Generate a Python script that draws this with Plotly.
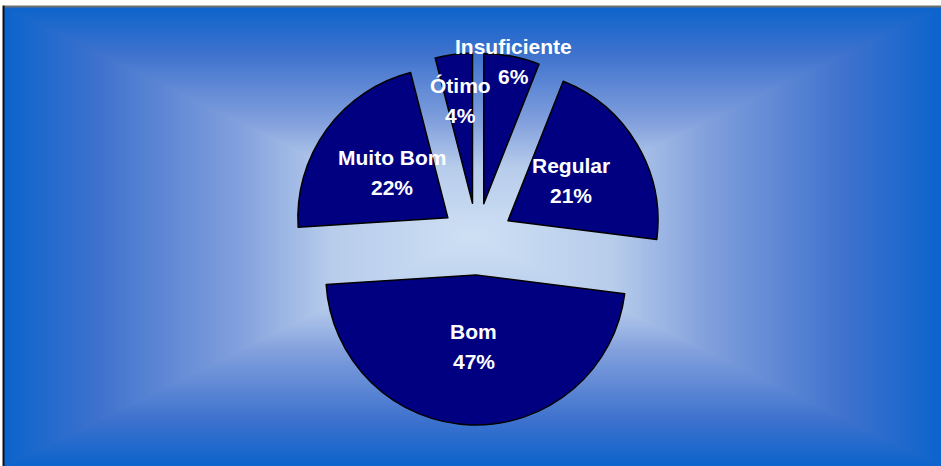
import base64
import math
import struct
import zlib

import numpy as np
import plotly.graph_objects as go

# ---------------- data ----------------
categories = ["Insuficiente", "Regular", "Bom", "Muito Bom", "Ótimo"]
values = [6, 21, 47, 22, 4]

# ---------------- styling / geometry ----------------
W, H = 941, 466
CX, CY = 477, 239          # pie centre (px)
R_PX = 150                 # pie radius (px)
PULL = 0.24
label_radius = [0.97, 0.50, 0.48, 0.48, 0.69]   # label distance from slice apex, fraction of r
label_angle_shift = [0.8, -1.8, 0.0, 2.8, 0.5]  # degrees
FONT = dict(family="Liberation Sans, Arial, sans-serif", size=21, color="white", weight="bold")
SLICE_COLOR = "#000080"

# ---------------- background gradient image ----------------
FX0, FY0 = 4, 7
fw, fh = W - FX0, H - FY0
yy, xx = np.mgrid[0:fh, 0:fw].astype(float)
gcx, gcy = fw / 2.0, fh / 2.0
t = np.maximum(np.abs(xx + 0.5 - gcx) / gcx, np.abs(yy + 0.5 - gcy) / gcy)
stops_t = [0.0, 0.3, 0.5, 0.8, 1.0]
stops_c = np.array([[206, 224, 244], [184, 205, 236], [130, 160, 221], [62, 114, 206], [12, 100, 204]], float)
img = np.zeros((fh, fw, 3), dtype=np.uint8)
for ch in range(3):
    img[..., ch] = np.clip(np.interp(t, stops_t, stops_c[:, ch]), 0, 255).astype(np.uint8)


def png_data_uri(arr):
    h, w, _ = arr.shape
    raw = b"".join(b"\x00" + arr[i].tobytes() for i in range(h))

    def chunk(tag, data):
        c = struct.pack(">I", len(data)) + tag + data
        return c + struct.pack(">I", zlib.crc32(tag + data) & 0xFFFFFFFF)

    png = (b"\x89PNG\r\n\x1a\n"
           + chunk(b"IHDR", struct.pack(">IIBBBBB", w, h, 8, 2, 0, 0, 0))
           + chunk(b"IDAT", zlib.compress(raw, 9))
           + chunk(b"IEND", b""))
    return "data:image/png;base64," + base64.b64encode(png).decode()


# ---------------- pie ----------------
box = 2 * R_PX * (1 + PULL)
ycen = 1 - CY / H
xcen = CX / W
dom_y = [ycen - box / 2 / H, ycen + box / 2 / H]
dom_x = [xcen - 0.31, xcen + 0.31]

fig = go.Figure()
fig.add_trace(go.Pie(
    labels=categories,
    values=values,
    sort=False,
    direction="clockwise",
    rotation=0,
    pull=[PULL] * len(values),
    marker=dict(colors=[SLICE_COLOR] * len(values), line=dict(color="black", width=1.5)),
    textinfo="none",
    hoverinfo="skip",
    showlegend=False,
    domain=dict(x=dom_x, y=dom_y),
))

# ---------------- labels (computed from the data angles) ----------------
total = float(sum(values))
annotations = []
cum = 0.0
for i, (cat, v) in enumerate(zip(categories, values)):
    mid = (cum + v / 2) / total * 360.0
    cum += v
    th = math.radians(mid)
    ax = CX + PULL * R_PX * math.sin(th)
    ay = CY - PULL * R_PX * math.cos(th)
    th2 = math.radians(mid + label_angle_shift[i])
    lx = ax + label_radius[i] * R_PX * math.sin(th2)
    ly = ay - label_radius[i] * R_PX * math.cos(th2)
    pct = f"{round(v / total * 100)}%"
    for txt, off in ((cat, -15), (pct, 15)):
        annotations.append(dict(
            x=lx / W, y=1 - (ly + off) / H, xref="paper", yref="paper",
            text=txt, showarrow=False, xanchor="center", yanchor="middle",
            font=FONT,
        ))

fig.update_layout(
    width=W, height=H,
    margin=dict(l=0, r=0, t=0, b=0),
    paper_bgcolor="white",
    plot_bgcolor="white",
    annotations=annotations,
    images=[dict(
        source=png_data_uri(img), xref="paper", yref="paper",
        x=FX0 / W, y=1 - FY0 / H, sizex=fw / W, sizey=fh / H,
        xanchor="left", yanchor="top", sizing="stretch", layer="below",
    )],
    shapes=[
        dict(type="line", xref="paper", yref="paper", x0=FX0 / W, x1=1, y0=1 - (FY0 - 0.5) / H,
             y1=1 - (FY0 - 0.5) / H, line=dict(color="#6e6e6e", width=2)),
        dict(type="line", xref="paper", yref="paper", x0=(FX0 - 0.5) / W, x1=(FX0 - 0.5) / W,
             y0=0, y1=1 - (FY0 - 1.5) / H, line=dict(color="#111111", width=2)),
    ],
)

fig.write_html(
    "out.html",
    config={"displayModeBar": False},
    post_script="document.body.style.margin='0';document.body.style.overflow='hidden';",
)
